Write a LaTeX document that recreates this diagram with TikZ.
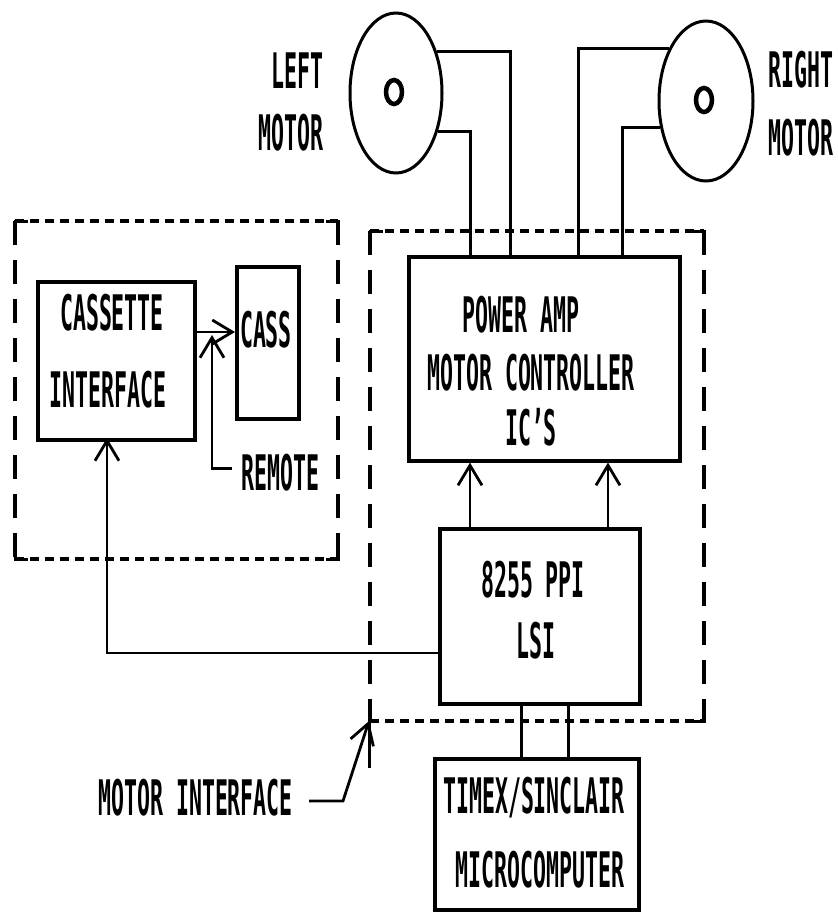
\documentclass[tikz,border=0pt]{standalone}
\usepackage{fontspec}
\setmainfont{DejaVu Sans Mono}[FakeStretch=0.44]
\usetikzlibrary{arrows.meta,shapes.geometric,calc}
\tikzset{
  blk/.style={draw,line width=3.6pt,inner sep=0pt,anchor=north west,rectangle},
  motor/.style={draw,ellipse,line width=3pt,inner sep=0pt},
  hub/.style={draw,ellipse,line width=4.5pt,inner sep=0pt,minimum width=16pt,minimum height=24pt},
  txt/.style={inner sep=0pt,anchor=base,font=\bfseries\fontsize{49}{57}\selectfont},
  wire/.style={line width=3pt},
  barb/.style={line width=2.8pt,-{Straight Barb[length=20pt,width=24pt,line width=2.8pt]}},
  hdash/.style={line width=4pt,dash pattern=on 9pt off 6pt},
  vdash/.style={line width=3.4pt,dash pattern=on 24pt off 15pt},
}
\begin{document}
\begin{tikzpicture}[x=1pt,y=-1pt]
\useasboundingbox (0,0) rectangle (838,914);
% motors
\node[motor,minimum width=92pt,minimum height=160pt] (lm) at (396,93) {};
\node[hub] (lh) at (394,92) {};
\node[motor,minimum width=94pt,minimum height=160pt] (rm) at (706,101) {};
\node[hub] (rh) at (704,100) {};
\node[txt,anchor=base east] (lt1) at (324,88) {LEFT};
\node[txt,anchor=base east] (lt2) at (324,150) {MOTOR};
\node[txt,anchor=base west] (rt1) at (768,87) {RIGHT};
\node[txt,anchor=base west] (rt2) at (768,155) {MOTOR};
% blocks
\node[blk,minimum width=157pt,minimum height=158pt] (ci) at (36,280) {};
\node[blk,minimum width=62pt,minimum height=152pt] (cs) at (235,265) {};
\node[blk,minimum width=271pt,minimum height=204pt] (pa) at (407,255) {};
\node[blk,minimum width=200pt,minimum height=175pt] (ppi) at (438,527) {};
\node[blk,minimum width=204pt,minimum height=151pt] (tx) at (433,757) {};
% block texts
\node[txt] (ci1) at (112,330) {CASSETTE};
\node[txt] (ci2) at (108,407) {INTERFACE};
\node[txt] (cs1) at (266,347) {CASS};
\node[txt,anchor=base west] (rem) at (241,490) {REMOTE};
\node[txt] (pa1) at (521,332) {POWER AMP};
\node[txt] (pa2) at (531,390) {MOTOR CONTROLLER};
\node[txt] (pa3) at (531,445) {IC'S};
\node[txt] (pp1) at (533,597) {8255 PPI};
\node[txt] (pp2) at (536,658) {LSI};
\node[txt] (tx1) at (534,813) {TIMEX/SINCLAIR};
\node[txt] (tx2) at (540,887) {MICROCOMPUTER};
\node[txt,anchor=base west] (mil) at (98,815) {MOTOR INTERFACE};
% dashed frames
\draw[hdash] (15,221) -- (338,221);
\draw[hdash] (15,559) -- (338,559);
\draw[vdash] (15,221) -- (15,559);
\draw[vdash] (338,221) -- (338,559);
\draw[wire] (15,236) -- (15,221) -- (28,221);
\draw[wire] (326,221) -- (338,221) -- (338,236);
\draw[wire] (15,546) -- (15,559) -- (28,559);
\draw[wire] (326,559) -- (338,559) -- (338,546);
\draw[hdash] (370,231) -- (704,231);
\draw[hdash] (370,721) -- (704,721);
\draw[vdash] (370,231) -- (370,721);
\draw[vdash] (704,231) -- (704,721);
\draw[wire] (370,246) -- (370,231) -- (383,231);
\draw[wire] (692,231) -- (704,231) -- (704,246);
\draw[wire] (692,721) -- (704,721) -- (704,708);
\coordinate (mi) at (369,721);
\coordinate (mib) at (369,768);
\draw[wire] (mi) -- (mib);
% motor wires
\coordinate (w1) at (510,0);
\coordinate (w2) at (470,0);
\coordinate (w3) at (578,0);
\coordinate (w4) at (622,0);
\draw[wire] (lm.45) -| (pa.north -| w1);
\draw[wire] (lm.-43) -| (pa.north -| w2);
\draw[wire] (rm.125) -| (pa.north -| w3);
\draw[wire] (rm.210) -| (pa.north -| w4);
% cassette connections
\coordinate (cj) at (0,332);
\draw[barb] (ci.east |- cj) -- (cs.west |- cj);
\coordinate (rtop) at (212,335);
\draw[barb] ($(rem.west)+(-9,-4)$) -| (rtop);
\coordinate (cl) at (0,653);
\coordinate (cb) at (107,438);
\draw[barb] (ppi.west |- cl) -| (cb);
% ppi to power amp
\coordinate (a1) at (470,0);
\coordinate (a2) at (608,0);
\draw[barb] (ppi.north -| a1) -- (pa.south -| a1);
\draw[barb] (ppi.north -| a2) -- (pa.south -| a2);
% ppi to timex
\coordinate (b1) at (521,0);
\coordinate (b2) at (568,0);
\draw[wire] (ppi.south -| b1) -- (tx.north -| b1);
\draw[wire] (ppi.south -| b2) -- (tx.north -| b2);
% motor interface leader
\coordinate (mk) at (343,801);
\draw[barb] ($(mil.east |- mk)+(16,0)$) -- (mk) -- (mi);
\end{tikzpicture}
\end{document}
